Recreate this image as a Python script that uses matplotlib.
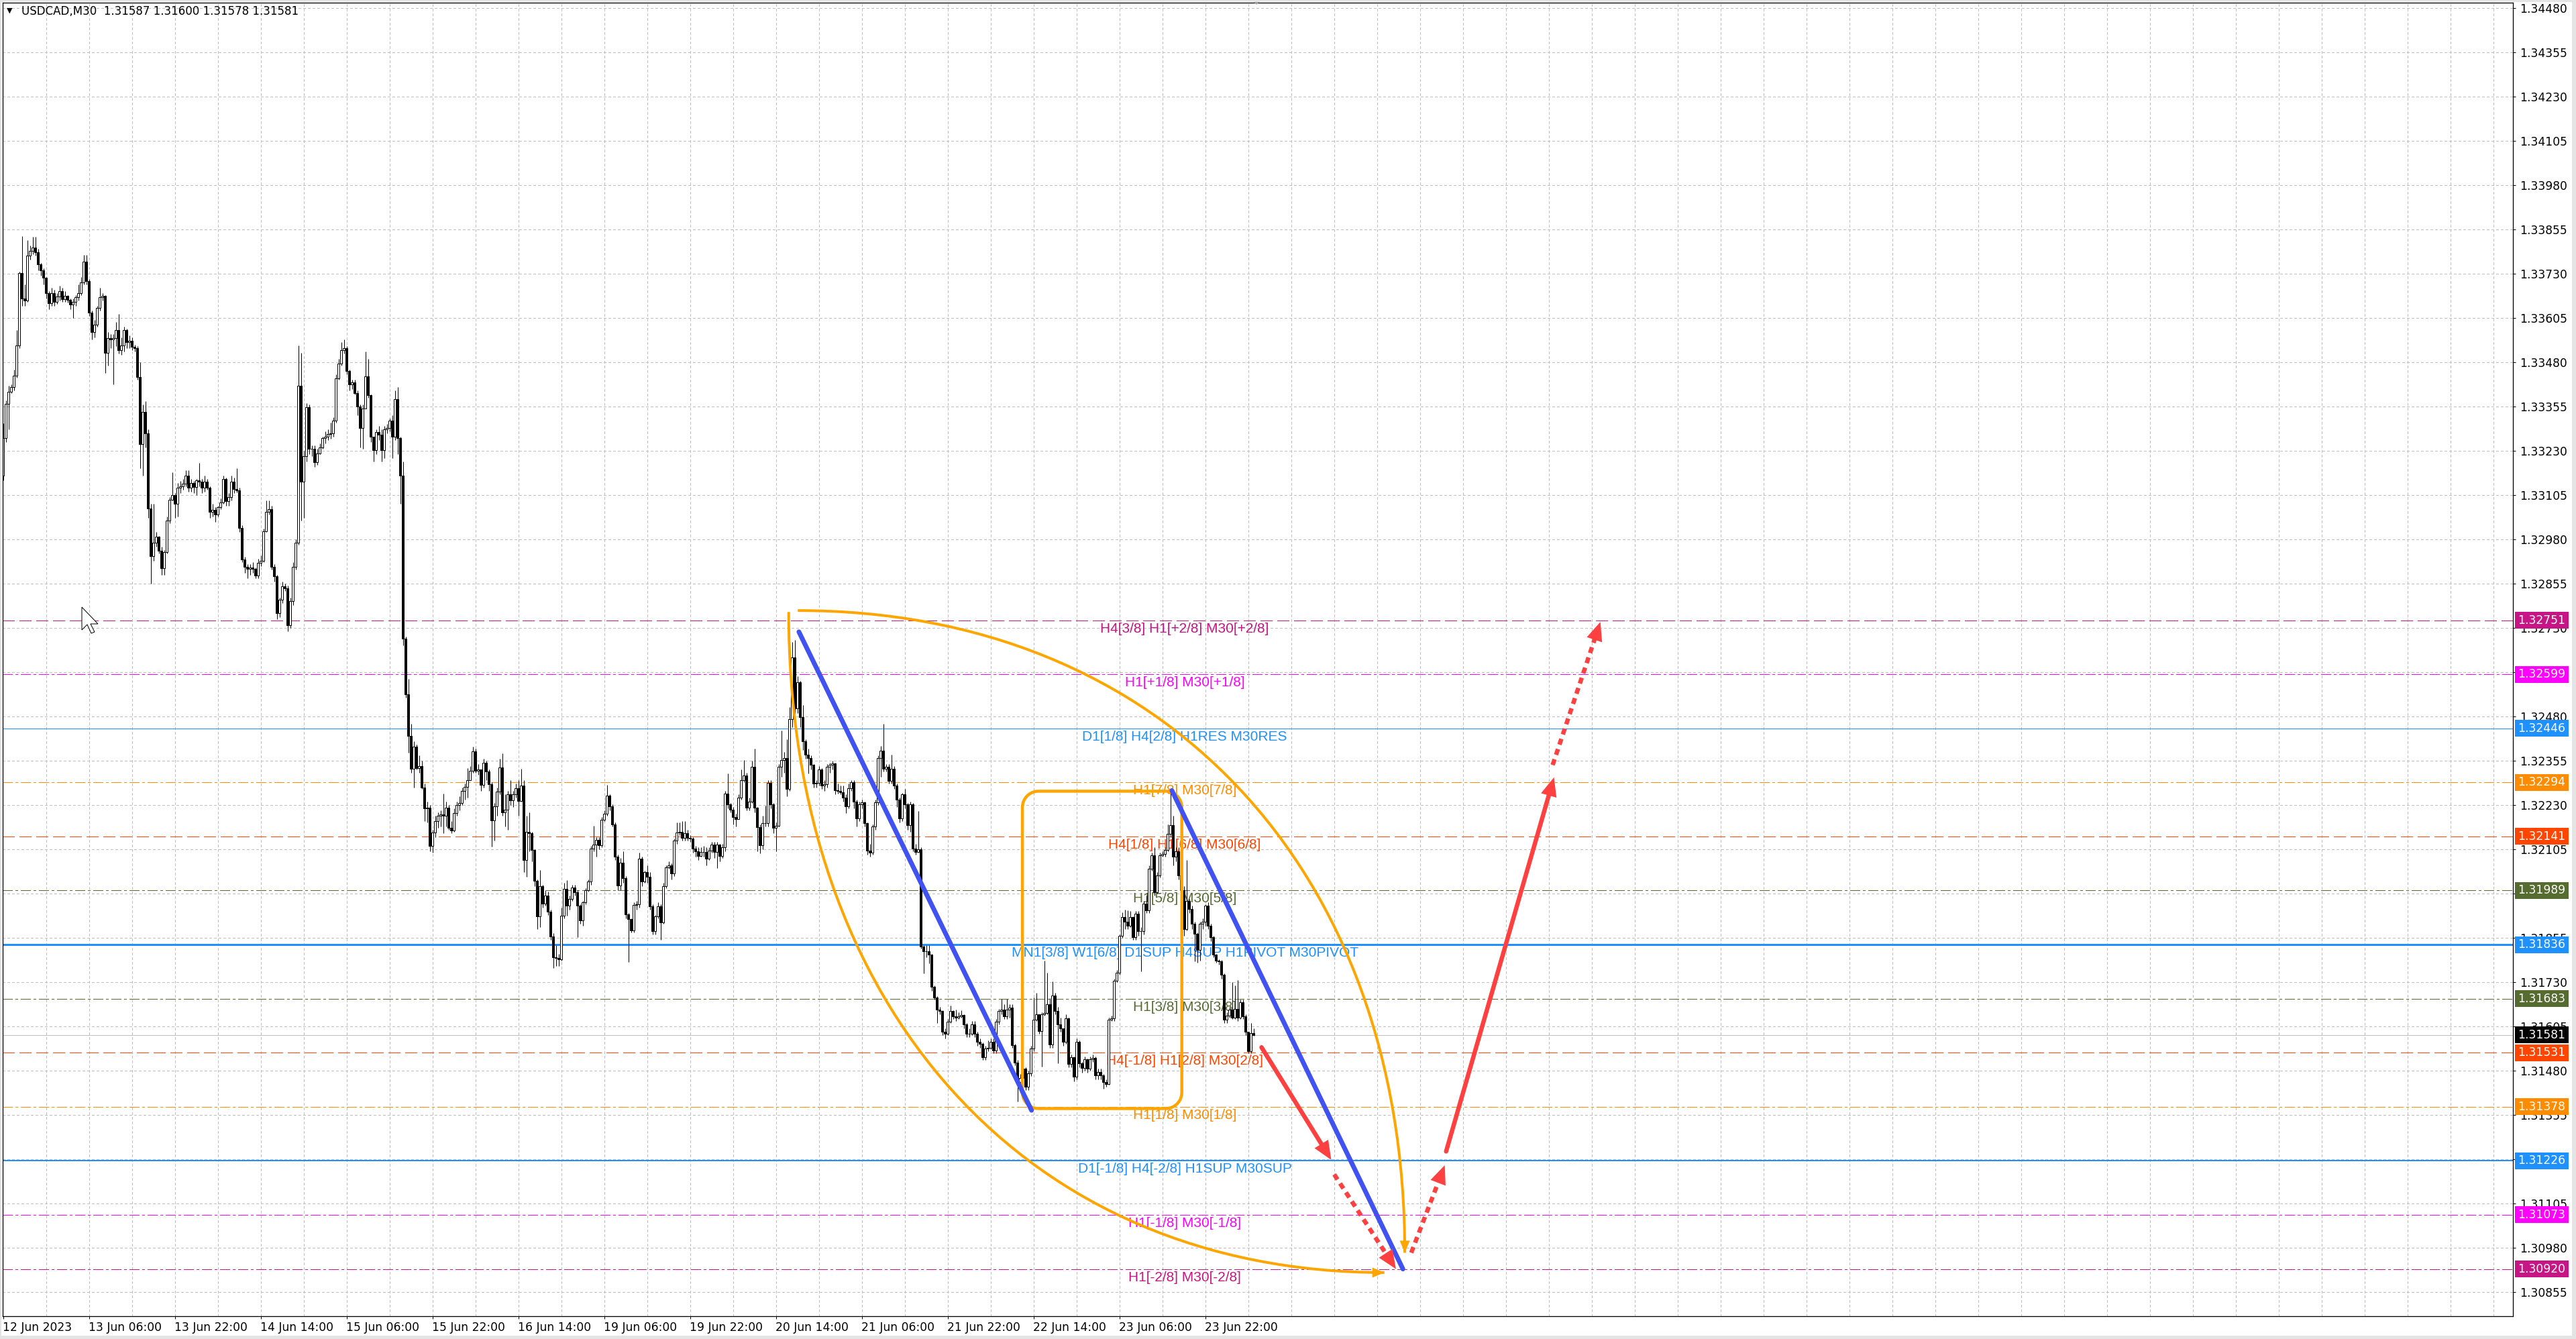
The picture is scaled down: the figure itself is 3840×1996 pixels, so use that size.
"""
USDCAD M30 chart: candles, Murrey-style level lines with their labels,
hand-drawn trend lines / arcs / projected path arrows.
Saves out.png (3840x1996).
"""
import matplotlib
matplotlib.use("Agg")
import matplotlib.pyplot as plt
import numpy as np
from matplotlib.patches import PathPatch, Polygon, Rectangle
from matplotlib.path import Path

W, H, DPI = 3840, 1996, 100
PX = 72 / DPI  # one screen pixel in points

plt.rcParams["lines.scale_dashes"] = False
plt.rcParams["font.family"] = ["DejaVu Sans"]

# ---------------------------------------------------------------------------
# Candles, prices in points (1e-5) above 1.30000, open = previous close
# ---------------------------------------------------------------------------
first_open = 3160
close_pts = [
    3266, 3363, 3397, 3409, 3443, 3528, 3731, 3660, 3655, 3782,
    3794, 3803, 3790, 3756, 3740, 3718, 3676, 3646, 3675, 3650,
    3665, 3680, 3658, 3667, 3656, 3642, 3650, 3663, 3676, 3705,
    3765, 3710, 3621, 3566, 3587, 3634, 3663, 3668, 3507, 3549,
    3545, 3548, 3570, 3515, 3527, 3570, 3537, 3540, 3524, 3520,
    3439, 3249, 3340, 3280, 3067, 2932, 2970, 2987, 2948, 2898,
    2944, 3033, 3092, 3105, 3080, 3126, 3130, 3138, 3160, 3126,
    3139, 3128, 3147, 3143, 3126, 3143, 3126, 3058, 3064, 3050,
    3071, 3085, 3151, 3088, 3100, 3143, 3122, 3118, 3012, 2923,
    2903, 2897, 2900, 2897, 2878, 2914, 2920, 3003, 3058, 3066,
    2902, 2876, 2771, 2809, 2847, 2842, 2737, 2805, 2902, 2970,
    3414, 3143, 3215, 3354, 3236, 3236, 3198, 3222, 3240, 3266,
    3270, 3277, 3280, 3316, 3435, 3477, 3515, 3520, 3456, 3418,
    3423, 3393, 3355, 3295, 3350, 3440, 3388, 3270, 3232, 3283,
    3275, 3231, 3291, 3295, 3316, 3270, 3376, 3266, 3160, 2700,
    2542, 2425, 2333, 2395, 2335, 2340, 2280, 2220, 2222, 2115,
    2153, 2185, 2200, 2204, 2200, 2222, 2166, 2158, 2208, 2230,
    2235, 2270, 2282, 2300, 2327, 2382, 2327, 2330, 2286, 2350,
    2324, 2289, 2186, 2226, 2267, 2337, 2210, 2216, 2260, 2243,
    2260, 2277, 2241, 2285, 2075, 2155, 2150, 2103, 2016, 1915,
    2001, 1952, 1975, 1929, 1858, 1800, 1799, 1794, 1918, 1994,
    1945, 1964, 1997, 1983, 1945, 1904, 1955, 1989, 2015, 2106,
    2119, 2131, 2116, 2189, 2206, 2256, 2226, 2175, 2084, 2003,
    2068, 2024, 1921, 1908, 1876, 1948, 1950, 2078, 2015, 2041,
    2027, 1944, 1873, 1915, 1944, 1898, 2001, 2054, 2060, 2037,
    2130, 2152, 2155, 2138, 2150, 2138, 2136, 2106, 2100, 2087,
    2098, 2097, 2078, 2102, 2119, 2098, 2119, 2087, 2110, 2262,
    2232, 2217, 2195, 2190, 2251, 2300, 2313, 2222, 2239, 2338,
    2222, 2167, 2116, 2179, 2179, 2292, 2232, 2166, 2172, 2338,
    2357, 2362, 2275, 2473, 2647, 2502, 2576, 2478, 2410, 2372,
    2362, 2343, 2290, 2293, 2331, 2285, 2288, 2338, 2343, 2348,
    2271, 2270, 2266, 2251, 2227, 2277, 2294, 2240, 2193, 2232,
    2237, 2179, 2102, 2095, 2169, 2237, 2362, 2383, 2333, 2338,
    2299, 2333, 2285, 2246, 2193, 2261, 2232, 2174, 2232, 2106,
    2097, 2105, 1831, 1817, 1818, 1807, 1716, 1687, 1653, 1648,
    1590, 1585, 1619, 1648, 1633, 1629, 1634, 1638, 1610, 1585,
    1585, 1610, 1585, 1561, 1556, 1518, 1542, 1545, 1561, 1537,
    1619, 1648, 1653, 1634, 1653, 1658, 1552, 1503, 1448, 1460,
    1485, 1434, 1472, 1542, 1624, 1640, 1592, 1640, 1643, 1668,
    1554, 1693, 1649, 1611, 1599, 1561, 1627, 1498, 1517, 1463,
    1561, 1501, 1488, 1513, 1485, 1513, 1516, 1466, 1476, 1466,
    1447, 1443, 1624, 1627, 1734, 1756, 1860, 1914, 1900, 1889,
    1914, 1857, 1924, 1873, 1873, 1952, 1933, 2050, 2088, 1984,
    2031, 2088, 2091, 2104, 2148, 2173, 2085, 2100, 2031, 1990,
    1880, 1960, 1936, 1895, 1867, 1820, 1895, 1900, 1946, 1889,
    1857, 1807, 1791, 1788, 1750, 1624, 1636, 1652, 1630, 1655,
    1630, 1674, 1633, 1589, 1535, 1587, 1581,
]
high_pts = [
    3308, 3372, 3414, 3418, 3460, 3570, 3735, 3837, 3700, 3824,
    3810, 3834, 3834, 3800, 3760, 3745, 3720, 3680, 3690, 3685,
    3675, 3695, 3690, 3680, 3670, 3660, 3660, 3670, 3700, 3720,
    3783, 3783, 3715, 3625, 3600, 3640, 3690, 3675, 3670, 3565,
    3560, 3560, 3594, 3616, 3550, 3580, 3575, 3555, 3550, 3530,
    3525, 3480, 3360, 3370, 3290, 3080, 3080, 3000, 2990, 2960,
    2950, 3045, 3100, 3170, 3110, 3140, 3145, 3150, 3175, 3176,
    3150, 3145, 3150, 3195, 3150, 3160, 3150, 3130, 3080, 3070,
    3075, 3095, 3160, 3155, 3110, 3160, 3155, 3180, 3125, 3020,
    2930, 2910, 2910, 2915, 2900, 2925, 2935, 3010, 3090, 3090,
    3075, 2910, 2880, 2815, 2860, 2855, 2850, 2815, 2915, 2980,
    3528, 3507, 3230, 3365, 3360, 3245, 3245, 3235, 3250, 3270,
    3285, 3290, 3310, 3325, 3445, 3490, 3537, 3545, 3525, 3460,
    3430, 3430, 3400, 3360, 3360, 3510, 3490, 3390, 3270, 3290,
    3300, 3290, 3300, 3305, 3320, 3330, 3400, 3410, 3270, 3200,
    2705, 2586, 2460, 2410, 2400, 2370, 2355, 2290, 2240, 2230,
    2160, 2200, 2210, 2215, 2262, 2240, 2230, 2185, 2220, 2240,
    2255, 2280, 2290, 2335, 2340, 2395, 2390, 2345, 2330, 2360,
    2355, 2330, 2295, 2235, 2280, 2360, 2376, 2260, 2270, 2300,
    2270, 2290, 2300, 2333, 2300, 2200, 2210, 2155, 2105, 2020,
    2046, 2005, 1990, 1985, 1935, 1868, 1835, 1810, 1940, 2010,
    2018, 1975, 2005, 2005, 1990, 1950, 1960, 1995, 2020, 2115,
    2172, 2140, 2140, 2195, 2215, 2287, 2260, 2232, 2180, 2090,
    2080, 2100, 2030, 1925, 1910, 1955, 1960, 2095, 2085, 2045,
    2060, 2040, 1950, 1920, 1955, 1950, 2010, 2060, 2070, 2065,
    2135, 2180, 2180, 2185, 2185, 2160, 2145, 2140, 2115, 2110,
    2110, 2115, 2110, 2110, 2125, 2125, 2125, 2120, 2120, 2270,
    2319, 2235, 2225, 2205, 2260, 2330, 2356, 2320, 2250, 2355,
    2390, 2225, 2175, 2200, 2229, 2300, 2300, 2235, 2180, 2345,
    2441, 2380, 2415, 2507, 2690, 2695, 2594, 2580, 2512, 2415,
    2390, 2370, 2345, 2300, 2340, 2335, 2300, 2345, 2350, 2355,
    2350, 2290, 2285, 2285, 2260, 2290, 2300, 2300, 2245, 2240,
    2245, 2240, 2180, 2120, 2175, 2245, 2370, 2396, 2459, 2345,
    2345, 2372, 2340, 2290, 2250, 2265, 2275, 2235, 2240, 2235,
    2120, 2213, 2110, 1835, 1835, 1835, 1810, 1720, 1690, 1660,
    1650, 1600, 1625, 1663, 1650, 1653, 1645, 1650, 1640, 1615,
    1600, 1620, 1620, 1590, 1570, 1560, 1550, 1565, 1570, 1570,
    1625, 1655, 1683, 1668, 1683, 1668, 1668, 1555, 1510, 1470,
    1495, 1490, 1480, 1550, 1687, 1700, 1640, 1645, 1791, 1757,
    1684, 1731, 1700, 1660, 1630, 1600, 1640, 1630, 1525, 1520,
    1570, 1565, 1505, 1520, 1515, 1520, 1525, 1520, 1485, 1485,
    1470, 1455, 1630, 1635, 1740, 1765, 1865, 1927, 1935, 1933,
    1930, 1915, 1930, 1930, 1885, 1960, 1975, 2060, 2095, 2110,
    2040, 2095, 2100, 2110, 2176, 2262, 2200, 2110, 2110, 2035,
    2000, 2075, 1965, 1945, 1900, 1870, 1900, 1910, 1950, 1955,
    1895, 1860, 1810, 1795, 1792, 1755, 1645, 1660, 1730, 1720,
    1735, 1680, 1680, 1640, 1590, 1615, 1600,
]
low_pts = [
    3147, 3255, 3290, 3392, 3400, 3436, 3520, 3640, 3640, 3650,
    3770, 3785, 3782, 3740, 3725, 3700, 3660, 3630, 3640, 3640,
    3645, 3655, 3650, 3650, 3648, 3630, 3605, 3640, 3655, 3670,
    3700, 3700, 3610, 3545, 3550, 3580, 3625, 3655, 3450, 3470,
    3520, 3418, 3525, 3505, 3500, 3510, 3520, 3520, 3515, 3510,
    3430, 3180, 3160, 3240, 3040, 2855, 2920, 2960, 2940, 2880,
    2880, 2940, 3025, 3090, 3040, 3045, 3110, 3120, 3130, 3115,
    3115, 3110, 3105, 3130, 3110, 3115, 3120, 3040, 3045, 3030,
    3045, 3065, 3080, 3075, 3075, 3090, 3110, 3112, 3000, 2915,
    2885, 2870, 2880, 2885, 2870, 2870, 2905, 2915, 3000, 3050,
    2895, 2860, 2755, 2760, 2800, 2835, 2720, 2730, 2795, 2895,
    2965, 3033, 3040, 3200, 3220, 3215, 3185, 3190, 3220, 3235,
    3250, 3260, 3265, 3270, 3310, 3430, 3470, 3505, 3445, 3400,
    3405, 3390, 3330, 3240, 3235, 3350, 3380, 3255, 3200, 3220,
    3260, 3200, 3210, 3280, 3285, 3210, 3260, 3220, 3080, 2680,
    2533, 2378, 2320, 2280, 2330, 2320, 2275, 2185, 2180, 2100,
    2096, 2140, 2165, 2170, 2150, 2170, 2160, 2150, 2155, 2200,
    2215, 2230, 2245, 2250, 2300, 2320, 2320, 2315, 2270, 2280,
    2300, 2270, 2113, 2130, 2200, 2260, 2200, 2170, 2160, 2230,
    2225, 2250, 2199, 2240, 2040, 2027, 2100, 2070, 2000, 1879,
    1885, 1940, 1945, 1920, 1850, 1770, 1775, 1775, 1790, 1910,
    1917, 1935, 1960, 1975, 1857, 1895, 1890, 1950, 1985, 2005,
    2100, 2084, 2105, 2110, 2185, 2200, 2215, 2170, 2075, 1990,
    1990, 2010, 1910, 1787, 1870, 1870, 1935, 1940, 2000, 2010,
    2010, 1935, 1865, 1865, 1910, 1850, 1895, 1995, 2050, 2020,
    2030, 2120, 2145, 2130, 2130, 2130, 2125, 2095, 2085, 2075,
    2085, 2085, 2060, 2075, 2095, 2080, 2052, 2070, 2080, 2100,
    2220, 2210, 2175, 2170, 2190, 2245, 2295, 2215, 2215, 2235,
    2210, 2100, 2094, 2105, 2170, 2170, 2220, 2150, 2100, 2170,
    2310, 2320, 2255, 2270, 2450, 2439, 2490, 2449, 2386, 2360,
    2319, 2330, 2280, 2280, 2285, 2275, 2270, 2280, 2320, 2330,
    2260, 2262, 2260, 2240, 2208, 2220, 2270, 2220, 2170, 2185,
    2220, 2170, 2090, 2085, 2090, 2160, 2230, 2310, 2325, 2325,
    2290, 2290, 2275, 2225, 2180, 2185, 2220, 2160, 2155, 2100,
    2090, 2095, 1825, 1754, 1800, 1783, 1705, 1680, 1614, 1640,
    1580, 1571, 1580, 1615, 1625, 1620, 1625, 1630, 1600, 1575,
    1575, 1580, 1575, 1550, 1545, 1510, 1510, 1535, 1540, 1530,
    1530, 1610, 1640, 1625, 1625, 1630, 1545, 1495, 1392, 1420,
    1425, 1425, 1425, 1465, 1535, 1620, 1585, 1491, 1635, 1640,
    1545, 1545, 1640, 1501, 1590, 1550, 1555, 1490, 1490, 1450,
    1455, 1490, 1475, 1480, 1475, 1480, 1505, 1455, 1455, 1455,
    1428, 1435, 1440, 1620, 1620, 1730, 1750, 1855, 1880, 1880,
    1885, 1850, 1850, 1860, 1760, 1865, 1925, 1925, 2045, 1975,
    1980, 2025, 2085, 2085, 2100, 2140, 2060, 2070, 2020, 1975,
    1860, 1875, 1925, 1880, 1788, 1785, 1790, 1880, 1890, 1880,
    1845, 1800, 1785, 1780, 1740, 1615, 1615, 1630, 1625, 1625,
    1620, 1625, 1625, 1580, 1530, 1530, 1578,
]

# time axis: one label every 32 bars
date_ticks = [0, 32, 64, 96, 128, 160, 192, 224, 256, 288, 320, 352, 384, 416, 448]
date_labels = ["12 Jun 2023", "13 Jun 06:00", "13 Jun 22:00", "14 Jun 14:00",
               "15 Jun 06:00", "15 Jun 22:00", "16 Jun 14:00", "19 Jun 06:00",
               "19 Jun 22:00", "20 Jun 14:00", "21 Jun 06:00", "21 Jun 22:00",
               "22 Jun 14:00", "23 Jun 06:00", "23 Jun 22:00"]
price_ticks = np.round(np.arange(1.30855, 1.34481, 0.00125), 5)

# ---------------------------------------------------------------------------
# Level lines
# ---------------------------------------------------------------------------
level_prices = [1.32751, 1.32599, 1.32446, 1.32294, 1.32141, 1.31989, 1.31836,
                1.31683, 1.31531, 1.31378, 1.31226, 1.31073, 1.30920]
level_texts = ["H4[3/8] H1[+2/8] M30[+2/8]", "H1[+1/8] M30[+1/8]",
               "D1[1/8] H4[2/8] H1RES M30RES", "H1[7/8] M30[7/8]",
               "H4[1/8] H1[6/8] M30[6/8]", "H1[5/8] M30[5/8]",
               "MN1[3/8] W1[6/8] D1SUP H4SUP H1PIVOT M30PIVOT", "H1[3/8] M30[3/8]",
               "H4[-1/8] H1[2/8] M30[2/8]", "H1[1/8] M30[1/8]",
               "D1[-1/8] H4[-2/8] H1SUP M30SUP", "H1[-1/8] M30[-1/8]",
               "H1[-2/8] M30[-2/8]"]
level_colors = ["#c71585", "#ff00ff", "#1e90ff", "#ff8c00", "#ff4500", "#556b2f",
                "#1e90ff", "#556b2f", "#ff4500", "#ff8c00", "#1e90ff", "#ff00ff",
                "#c71585"]
level_styles = ["dash", "dashdot", "solid", "dashdot", "dash", "dashdot", "solid",
                "dashdot", "dash", "dashdot", "solid", "dashdot", "dashdot"]
level_widths = [1, 1, 1, 1, 1, 1, 3, 1, 1, 1, 2, 1, 1]  # px
current_price = 1.31581
label_bar = 440.4

# ---------------------------------------------------------------------------
# Drawn objects, anchors as (bar index, points above 1.30000)
# ---------------------------------------------------------------------------
trend_lines = [((296.6, 2719), (383.3, 1368)), ((435.6, 2271), (521.7, 920))]
box_corners = ((379.9, 1373), (439.3, 2269))
arc_top = ((296.2, 2779), (522.4, 966))
arc_bottom = ((292.8, 2775), (514.8, 910))
arrows_solid = [((469.0, 1546), (495.0, 1228)), ((537.8, 1252), (578.0, 2308))]
arrows_dotted = [((496.1, 1187), (519.1, 920)), ((524.8, 966), (537.3, 1213)),
                 ((577.5, 2343), (595.3, 2747))]

BLUE = "#4152f2"
ORANGE = "#ffa500"
RED = "#ff4040"
GRID = "#c0c0c0"


def price(v):
    return 1.3 + np.asarray(v, dtype=float) / 1e5


def anchor(a):
    return (a[0], float(price(a[1])))


# ---------------------------------------------------------------------------
# Figure / axes, 4 px per bar and 52800 px per 1.0 of price
# ---------------------------------------------------------------------------
AX_L, AX_R, AX_T, AX_B = 3.5, 3746.0, 4.0, 1962.0
fig = plt.figure(figsize=(W / DPI, H / DPI), dpi=DPI, facecolor="white")
ax = fig.add_axes([AX_L / W, 1 - AX_B / H, (AX_R - AX_L) / W, (AX_B - AX_T) / H])
ax.set_xlim(-0.25, -0.25 + (AX_R - AX_L) / 4)
ax.set_ylim(1.34480 - (AX_B - 12) / 52800, 1.34480 + (12 - AX_T) / 52800)
for sp in ax.spines.values():
    sp.set_linewidth(1.3 * PX)
    sp.set_color("black")

grid_ls = (0, (3 * PX, 3 * PX))
for b in range(16, 936, 16):
    ax.axvline(b, color=GRID, lw=PX, ls=grid_ls, zorder=0.5, antialiased=False)
for p in price_ticks:
    ax.axhline(p, color=GRID, lw=PX, ls=grid_ls, zorder=0.5, antialiased=False)

style_map = {"dash": (0, (18 * PX, 8 * PX)),
             "dashdot": (0, (15 * PX, 5 * PX, 3 * PX, 5 * PX)),
             "solid": "-"}
for p, t, c, s, w in zip(level_prices, level_texts, level_colors, level_styles, level_widths):
    ax.axhline(p, color=c, lw=w * PX, ls=style_map[s], zorder=1, antialiased=False)
    ax.annotate(t, xy=(label_bar, p), xytext=(0, -3 * PX), textcoords="offset points",
                ha="center", va="top", color=c, fontsize=15, family="Liberation Sans",
                zorder=1.5)
ax.axhline(current_price, color=GRID, lw=PX, zorder=1, antialiased=False)

# candles
c = price(close_pts)
o = np.concatenate([[float(price(first_open))], c[:-1]])
hi = price(high_pts)
lo = price(low_pts)
x = np.arange(len(c))
ax.vlines(x, lo, hi, color="black", lw=PX, zorder=2)
up = c >= o
ax.bar(x, np.abs(c - o), bottom=np.minimum(o, c), width=0.75,
       color=np.where(up, "white", "black"), edgecolor="black", linewidth=PX,
       zorder=2.1)


def to_data(pts):
    return ax.transData.inverted().transform(pts)


def arrow_head(tail, tip, color, length, width, z):
    s, t = ax.transData.transform([tail, tip])
    d = (t - s) / np.hypot(*(t - s))
    n = np.array([-d[1], d[0]])
    base = t - d * length
    tri = np.array([t, base + n * width / 2, base - n * width / 2])
    ax.add_patch(Polygon(to_data(tri), closed=True, facecolor=color, edgecolor=color,
                         lw=0, zorder=z))
    return to_data([t - d * length * 0.7])[0]


# orange rounded box
(xa, ya), (xb, yb) = ax.transData.transform([anchor(box_corners[0]), anchor(box_corners[1])])
x0, x1 = sorted((xa, xb))
y0, y1 = sorted((ya, yb))
r = 24
t = np.linspace(0, np.pi / 2, 14)
ring = []
for cx, cy, a0 in [(x1 - r, y1 - r, 0), (x0 + r, y1 - r, np.pi / 2),
                   (x0 + r, y0 + r, np.pi), (x1 - r, y0 + r, 1.5 * np.pi)]:
    ring.append(np.c_[cx + r * np.cos(a0 + t), cy + r * np.sin(a0 + t)])
ring = np.vstack(ring + [ring[0][:1]])
ring = to_data(ring)
ax.plot(ring[:, 0], ring[:, 1], color=ORANGE, lw=4.5 * PX, zorder=3)

# orange arcs
for (a, b), horizontal_start in [(arc_top, True), (arc_bottom, False)]:
    p0, p3 = np.array(anchor(a)), np.array(anchor(b))
    k = 0.6
    if horizontal_start:
        p1 = (p0[0] + k * (p3[0] - p0[0]), p0[1])
        p2 = (p3[0], p3[1] + k * (p0[1] - p3[1]))
    else:
        p1 = (p0[0], p0[1] + k * (p3[1] - p0[1]))
        p2 = (p3[0] + k * (p0[0] - p3[0]), p3[1])
    path = Path([p0, p1, p2, p3], [Path.MOVETO, Path.CURVE4, Path.CURVE4, Path.CURVE4])
    ax.add_patch(PathPatch(path, fill=False, edgecolor=ORANGE, lw=4 * PX, zorder=3))
    arrow_head(p2, tuple(p3), ORANGE, 18, 15, 3)

# blue trend lines
for a, b in trend_lines:
    (xa, ya), (xb, yb) = anchor(a), anchor(b)
    ax.plot([xa, xb], [ya, yb], color=BLUE, lw=7 * PX, solid_capstyle="round", zorder=3.2)

# red projected path
for segs, ls in [(arrows_solid, "-"), (arrows_dotted, (0, (9 * PX, 7 * PX)))]:
    for a, b in segs:
        tail, tip = anchor(a), anchor(b)
        end = arrow_head(tail, tip, RED, 28, 24, 3.5)
        ax.plot([tail[0], end[0]], [tail[1], end[1]], color=RED, lw=6.5 * PX, ls=ls,
                solid_capstyle="round", dash_capstyle="butt", zorder=3.5)

# axes ticks
ax.yaxis.tick_right()
ax.set_yticks(price_ticks)
ax.set_yticklabels([f"{p:.5f}" for p in price_ticks])
ax.tick_params(axis="y", direction="out", length=4 * PX, width=PX, pad=6 * PX,
               labelsize=12.3, colors="black")
ax.set_xticks(date_ticks)
ax.set_xticklabels(date_labels, ha="left")
ax.tick_params(axis="x", direction="out", length=4 * PX, width=PX, pad=4 * PX,
               labelsize=12.3, colors="black")

# price tags on the right scale
ytr = ax.get_yaxis_transform()
span = AX_R - AX_L
tag_x0 = (3749 - AX_L) / span
tag_w = (3829 - 3749) / span
tag_h = 25 / 52800
for p, col in list(zip(level_prices, level_colors)) + [(current_price, "black")]:
    ax.add_patch(Rectangle((tag_x0, p - tag_h / 2), tag_w, tag_h, transform=ytr,
                           facecolor=col, edgecolor="none", clip_on=False, zorder=10))
    ax.text(tag_x0 + tag_w / 2, p, f"{p:.5f}", transform=ytr, ha="center", va="center",
            color="white", fontsize=12.3, clip_on=False, zorder=11)

# title line
fig.text(32 / W, 1 - 17 / H, "USDCAD,M30  1.31587 1.31600 1.31578 1.31581",
         fontsize=12, ha="left", va="center")
fig.text(14 / W, 1 - 16 / H, "\u25bc", fontsize=8, ha="center", va="center")


def fig_poly(pts_px, **kw):
    pts_px = np.asarray(pts_px, dtype=float)
    fig.add_artist(Polygon(np.c_[pts_px[:, 0] / W, 1 - pts_px[:, 1] / H], closed=True,
                           transform=fig.transFigure, **kw))


# chart-shift marker and mouse cursor
fig_poly([(1866, 0), (1880, 0), (1873, 7)], facecolor="#a0a0a0", edgecolor="none", zorder=20)
cursor = np.array([(0, 0), (0, 17), (4, 13), (7, 19.5), (9.5, 18.5), (6.5, 12.5), (12, 12.5)])
fig_poly(cursor * 2 + (122, 905), facecolor="white", edgecolor="black", lw=PX, zorder=20)

# window frame
for rx, ry, rw, rh in [(0, 0, W, 3), (0, 0, 2, H), (W - 6, 0, 6, H), (0, H - 5, W, 5)]:
    fig.add_artist(Rectangle((rx / W, 1 - (ry + rh) / H), rw / W, rh / H,
                             transform=fig.transFigure, facecolor="#e4e4e4",
                             edgecolor="none", zorder=30))

fig.savefig("out.png", dpi=DPI, facecolor="white")
